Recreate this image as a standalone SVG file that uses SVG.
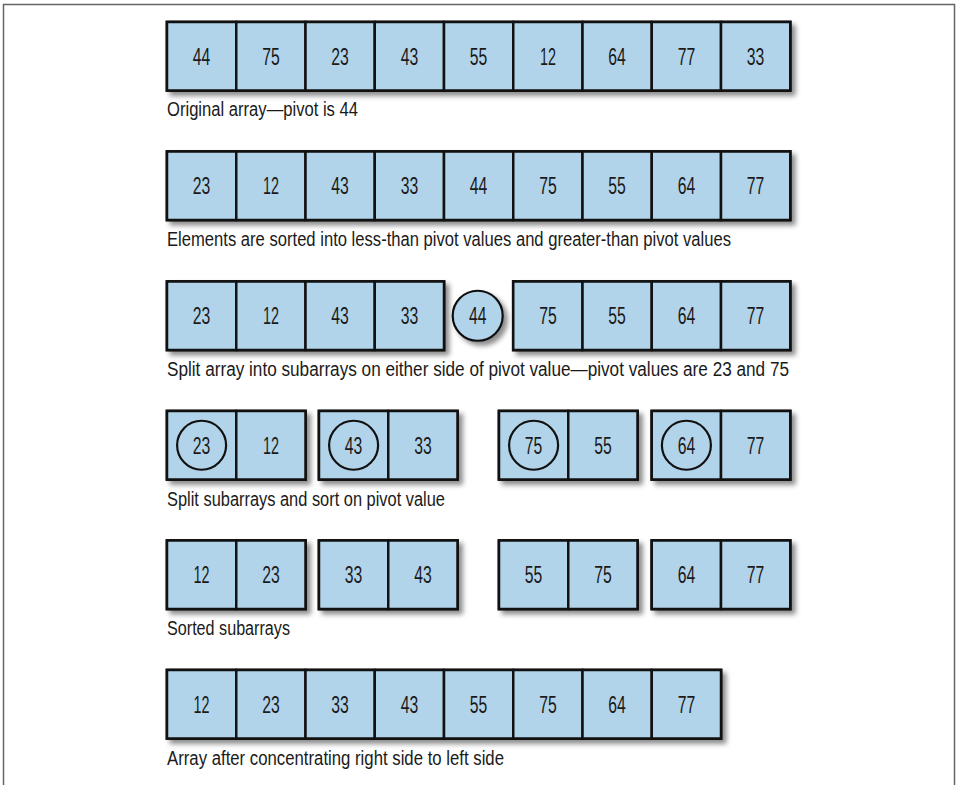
<svg xmlns="http://www.w3.org/2000/svg" width="956" height="785" viewBox="0 0 956 785">
<defs>
<filter id="sh" x="-10%" y="-20%" width="125%" height="150%">
<feDropShadow dx="4" dy="4" stdDeviation="2.5" flood-color="#000" flood-opacity="0.45"/>
</filter>
<style>
.bg{fill:#b2d4ea;stroke:#111;stroke-width:2.8;filter:url(#sh)}
.c{fill:#b2d4ea;stroke:#111;stroke-width:2.5}
.p{fill:none;stroke:#111;stroke-width:2.2}
.pc{fill:#b2d4ea;stroke:#111;stroke-width:2.2;filter:url(#sh)}
.n{font-family:"Liberation Sans Narrow","Liberation Sans",Arial,sans-serif;font-size:23px;text-anchor:middle;fill:#1a1a1a}
.cap{font-family:"Liberation Sans Narrow","Liberation Sans",Arial,sans-serif;font-size:19.5px;fill:#1a1a1a}
.fr{fill:none;stroke:#666;stroke-width:1.5}
</style>
</defs>
<rect width="956" height="785" fill="#fff"/>
<path class="fr" d="M3.5,785 V4.5 H954.5 V785"/>
<g id="connectors"/>

<!-- Row 1 -->
<g id="row1">
<rect class="bg" x="167" y="22" width="623.25" height="68.5"/>
<g id="r1c1"><rect class="c" x="167" y="22" width="69.25" height="68.5"/><text class="n" x="201.6" y="64.5" textLength="17.5" lengthAdjust="spacingAndGlyphs">44</text></g>
<g id="r1c2"><rect class="c" x="236.25" y="22" width="69.25" height="68.5"/><text class="n" x="270.9" y="64.5" textLength="17.5" lengthAdjust="spacingAndGlyphs">75</text></g>
<g id="r1c3"><rect class="c" x="305.5" y="22" width="69.25" height="68.5"/><text class="n" x="340.1" y="64.5" textLength="17.5" lengthAdjust="spacingAndGlyphs">23</text></g>
<g id="r1c4"><rect class="c" x="374.75" y="22" width="69.25" height="68.5"/><text class="n" x="409.4" y="64.5" textLength="17.5" lengthAdjust="spacingAndGlyphs">43</text></g>
<g id="r1c5"><rect class="c" x="444" y="22" width="69.25" height="68.5"/><text class="n" x="478.6" y="64.5" textLength="17.5" lengthAdjust="spacingAndGlyphs">55</text></g>
<g id="r1c6"><rect class="c" x="513.25" y="22" width="69.25" height="68.5"/><text class="n" x="547.9" y="64.5" textLength="16" lengthAdjust="spacingAndGlyphs">12</text></g>
<g id="r1c7"><rect class="c" x="582.5" y="22" width="69.25" height="68.5"/><text class="n" x="617.1" y="64.5" textLength="17.5" lengthAdjust="spacingAndGlyphs">64</text></g>
<g id="r1c8"><rect class="c" x="651.75" y="22" width="69.25" height="68.5"/><text class="n" x="686.4" y="64.5" textLength="17.5" lengthAdjust="spacingAndGlyphs">77</text></g>
<g id="r1c9"><rect class="c" x="721" y="22" width="69.25" height="68.5"/><text class="n" x="755.6" y="64.5" textLength="17.5" lengthAdjust="spacingAndGlyphs">33</text></g>
</g>
<text id="cap1" class="cap" x="167" y="116" textLength="191" lengthAdjust="spacingAndGlyphs">Original array—pivot is 44</text>

<!-- Row 2 -->
<g id="row2">
<rect class="bg" x="167" y="151.5" width="623.25" height="68.5"/>
<g id="r2c1"><rect class="c" x="167" y="151.5" width="69.25" height="68.5"/><text class="n" x="201.6" y="194" textLength="17.5" lengthAdjust="spacingAndGlyphs">23</text></g>
<g id="r2c2"><rect class="c" x="236.25" y="151.5" width="69.25" height="68.5"/><text class="n" x="270.9" y="194" textLength="16" lengthAdjust="spacingAndGlyphs">12</text></g>
<g id="r2c3"><rect class="c" x="305.5" y="151.5" width="69.25" height="68.5"/><text class="n" x="340.1" y="194" textLength="17.5" lengthAdjust="spacingAndGlyphs">43</text></g>
<g id="r2c4"><rect class="c" x="374.75" y="151.5" width="69.25" height="68.5"/><text class="n" x="409.4" y="194" textLength="17.5" lengthAdjust="spacingAndGlyphs">33</text></g>
<g id="r2c5"><rect class="c" x="444" y="151.5" width="69.25" height="68.5"/><text class="n" x="478.6" y="194" textLength="17.5" lengthAdjust="spacingAndGlyphs">44</text></g>
<g id="r2c6"><rect class="c" x="513.25" y="151.5" width="69.25" height="68.5"/><text class="n" x="547.9" y="194" textLength="17.5" lengthAdjust="spacingAndGlyphs">75</text></g>
<g id="r2c7"><rect class="c" x="582.5" y="151.5" width="69.25" height="68.5"/><text class="n" x="617.1" y="194" textLength="17.5" lengthAdjust="spacingAndGlyphs">55</text></g>
<g id="r2c8"><rect class="c" x="651.75" y="151.5" width="69.25" height="68.5"/><text class="n" x="686.4" y="194" textLength="17.5" lengthAdjust="spacingAndGlyphs">64</text></g>
<g id="r2c9"><rect class="c" x="721" y="151.5" width="69.25" height="68.5"/><text class="n" x="755.6" y="194" textLength="17.5" lengthAdjust="spacingAndGlyphs">77</text></g>
</g>
<text id="cap2" class="cap" x="167" y="246" textLength="564" lengthAdjust="spacingAndGlyphs">Elements are sorted into less-than pivot values and greater-than pivot values</text>

<!-- Row 3 -->
<g id="row3a">
<rect class="bg" x="167" y="281.5" width="277" height="68.5"/>
<g id="r3c1"><rect class="c" x="167" y="281.5" width="69.25" height="68.5"/><text class="n" x="201.6" y="324" textLength="17.5" lengthAdjust="spacingAndGlyphs">23</text></g>
<g id="r3c2"><rect class="c" x="236.25" y="281.5" width="69.25" height="68.5"/><text class="n" x="270.9" y="324" textLength="16" lengthAdjust="spacingAndGlyphs">12</text></g>
<g id="r3c3"><rect class="c" x="305.5" y="281.5" width="69.25" height="68.5"/><text class="n" x="340.1" y="324" textLength="17.5" lengthAdjust="spacingAndGlyphs">43</text></g>
<g id="r3c4"><rect class="c" x="374.75" y="281.5" width="69.25" height="68.5"/><text class="n" x="409.4" y="324" textLength="17.5" lengthAdjust="spacingAndGlyphs">33</text></g>
</g>
<g id="r3pivot"><circle class="pc" cx="477.7" cy="315.75" r="25"/><text class="n" x="477.7" y="324" textLength="17.5" lengthAdjust="spacingAndGlyphs">44</text></g>
<g id="row3b">
<rect class="bg" x="513.25" y="281.5" width="277" height="68.5"/>
<g id="r3c6"><rect class="c" x="513.25" y="281.5" width="69.25" height="68.5"/><text class="n" x="547.9" y="324" textLength="17.5" lengthAdjust="spacingAndGlyphs">75</text></g>
<g id="r3c7"><rect class="c" x="582.5" y="281.5" width="69.25" height="68.5"/><text class="n" x="617.1" y="324" textLength="17.5" lengthAdjust="spacingAndGlyphs">55</text></g>
<g id="r3c8"><rect class="c" x="651.75" y="281.5" width="69.25" height="68.5"/><text class="n" x="686.4" y="324" textLength="17.5" lengthAdjust="spacingAndGlyphs">64</text></g>
<g id="r3c9"><rect class="c" x="721" y="281.5" width="69.25" height="68.5"/><text class="n" x="755.6" y="324" textLength="17.5" lengthAdjust="spacingAndGlyphs">77</text></g>
</g>
<text id="cap3" class="cap" x="167" y="376" textLength="622" lengthAdjust="spacingAndGlyphs">Split array into subarrays on either side of pivot value—pivot values are 23 and 75</text>

<!-- Row 4 -->
<g id="row4a">
<rect class="bg" x="167" y="411" width="138.5" height="68.5"/>
<g id="r4c1"><rect class="c" x="167" y="411" width="69.25" height="68.5"/><circle class="p" cx="201.6" cy="445.25" r="24.5"/><text class="n" x="201.6" y="453.5" textLength="17.5" lengthAdjust="spacingAndGlyphs">23</text></g>
<g id="r4c2"><rect class="c" x="236.25" y="411" width="69.25" height="68.5"/><text class="n" x="270.9" y="453.5" textLength="16" lengthAdjust="spacingAndGlyphs">12</text></g>
</g>
<g id="row4b">
<rect class="bg" x="319" y="411" width="138.5" height="68.5"/>
<g id="r4c3"><rect class="c" x="319" y="411" width="69.25" height="68.5"/><circle class="p" cx="353.6" cy="445.25" r="24.5"/><text class="n" x="353.6" y="453.5" textLength="17.5" lengthAdjust="spacingAndGlyphs">43</text></g>
<g id="r4c4"><rect class="c" x="388.25" y="411" width="69.25" height="68.5"/><text class="n" x="422.9" y="453.5" textLength="17.5" lengthAdjust="spacingAndGlyphs">33</text></g>
</g>
<g id="row4c">
<rect class="bg" x="499" y="411" width="138.5" height="68.5"/>
<g id="r4c5"><rect class="c" x="499" y="411" width="69.25" height="68.5"/><circle class="p" cx="533.6" cy="445.25" r="24.5"/><text class="n" x="533.6" y="453.5" textLength="17.5" lengthAdjust="spacingAndGlyphs">75</text></g>
<g id="r4c6"><rect class="c" x="568.25" y="411" width="69.25" height="68.5"/><text class="n" x="602.9" y="453.5" textLength="17.5" lengthAdjust="spacingAndGlyphs">55</text></g>
</g>
<g id="row4d">
<rect class="bg" x="651.75" y="411" width="138.5" height="68.5"/>
<g id="r4c7"><rect class="c" x="651.75" y="411" width="69.25" height="68.5"/><circle class="p" cx="686.4" cy="445.25" r="24.5"/><text class="n" x="686.4" y="453.5" textLength="17.5" lengthAdjust="spacingAndGlyphs">64</text></g>
<g id="r4c8"><rect class="c" x="721" y="411" width="69.25" height="68.5"/><text class="n" x="755.6" y="453.5" textLength="17.5" lengthAdjust="spacingAndGlyphs">77</text></g>
</g>
<text id="cap4" class="cap" x="167" y="505.5" textLength="278" lengthAdjust="spacingAndGlyphs">Split subarrays and sort on pivot value</text>

<!-- Row 5 -->
<g id="row5a">
<rect class="bg" x="167" y="540.5" width="138.5" height="68.5"/>
<g id="r5c1"><rect class="c" x="167" y="540.5" width="69.25" height="68.5"/><text class="n" x="201.6" y="583" textLength="16" lengthAdjust="spacingAndGlyphs">12</text></g>
<g id="r5c2"><rect class="c" x="236.25" y="540.5" width="69.25" height="68.5"/><text class="n" x="270.9" y="583" textLength="17.5" lengthAdjust="spacingAndGlyphs">23</text></g>
</g>
<g id="row5b">
<rect class="bg" x="319" y="540.5" width="138.5" height="68.5"/>
<g id="r5c3"><rect class="c" x="319" y="540.5" width="69.25" height="68.5"/><text class="n" x="353.6" y="583" textLength="17.5" lengthAdjust="spacingAndGlyphs">33</text></g>
<g id="r5c4"><rect class="c" x="388.25" y="540.5" width="69.25" height="68.5"/><text class="n" x="422.9" y="583" textLength="17.5" lengthAdjust="spacingAndGlyphs">43</text></g>
</g>
<g id="row5c">
<rect class="bg" x="499" y="540.5" width="138.5" height="68.5"/>
<g id="r5c5"><rect class="c" x="499" y="540.5" width="69.25" height="68.5"/><text class="n" x="533.6" y="583" textLength="17.5" lengthAdjust="spacingAndGlyphs">55</text></g>
<g id="r5c6"><rect class="c" x="568.25" y="540.5" width="69.25" height="68.5"/><text class="n" x="602.9" y="583" textLength="17.5" lengthAdjust="spacingAndGlyphs">75</text></g>
</g>
<g id="row5d">
<rect class="bg" x="651.75" y="540.5" width="138.5" height="68.5"/>
<g id="r5c7"><rect class="c" x="651.75" y="540.5" width="69.25" height="68.5"/><text class="n" x="686.4" y="583" textLength="17.5" lengthAdjust="spacingAndGlyphs">64</text></g>
<g id="r5c8"><rect class="c" x="721" y="540.5" width="69.25" height="68.5"/><text class="n" x="755.6" y="583" textLength="17.5" lengthAdjust="spacingAndGlyphs">77</text></g>
</g>
<text id="cap5" class="cap" x="167" y="635" textLength="123" lengthAdjust="spacingAndGlyphs">Sorted subarrays</text>

<!-- Row 6 -->
<g id="row6">
<rect class="bg" x="167" y="670" width="554" height="68.5"/>
<g id="r6c1"><rect class="c" x="167" y="670" width="69.25" height="68.5"/><text class="n" x="201.6" y="712.5" textLength="16" lengthAdjust="spacingAndGlyphs">12</text></g>
<g id="r6c2"><rect class="c" x="236.25" y="670" width="69.25" height="68.5"/><text class="n" x="270.9" y="712.5" textLength="17.5" lengthAdjust="spacingAndGlyphs">23</text></g>
<g id="r6c3"><rect class="c" x="305.5" y="670" width="69.25" height="68.5"/><text class="n" x="340.1" y="712.5" textLength="17.5" lengthAdjust="spacingAndGlyphs">33</text></g>
<g id="r6c4"><rect class="c" x="374.75" y="670" width="69.25" height="68.5"/><text class="n" x="409.4" y="712.5" textLength="17.5" lengthAdjust="spacingAndGlyphs">43</text></g>
<g id="r6c5"><rect class="c" x="444" y="670" width="69.25" height="68.5"/><text class="n" x="478.6" y="712.5" textLength="17.5" lengthAdjust="spacingAndGlyphs">55</text></g>
<g id="r6c6"><rect class="c" x="513.25" y="670" width="69.25" height="68.5"/><text class="n" x="547.9" y="712.5" textLength="17.5" lengthAdjust="spacingAndGlyphs">75</text></g>
<g id="r6c7"><rect class="c" x="582.5" y="670" width="69.25" height="68.5"/><text class="n" x="617.1" y="712.5" textLength="17.5" lengthAdjust="spacingAndGlyphs">64</text></g>
<g id="r6c8"><rect class="c" x="651.75" y="670" width="69.25" height="68.5"/><text class="n" x="686.4" y="712.5" textLength="17.5" lengthAdjust="spacingAndGlyphs">77</text></g>
</g>
<text id="cap6" class="cap" x="167" y="764.5" textLength="337" lengthAdjust="spacingAndGlyphs">Array after concentrating right side to left side</text>
</svg>
